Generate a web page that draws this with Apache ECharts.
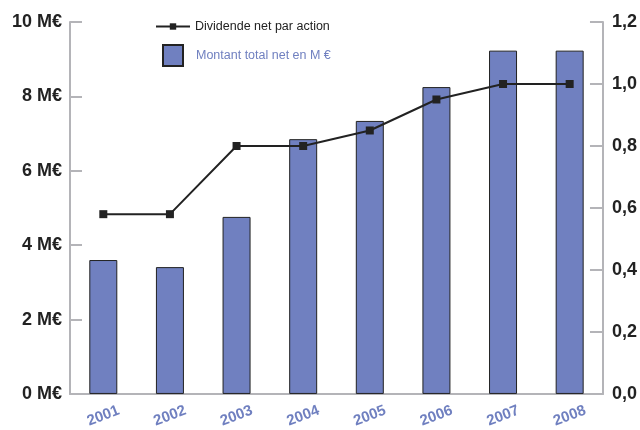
<!DOCTYPE html>
<html><head><meta charset="utf-8">
<script src="https://cdn.jsdelivr.net/npm/echarts@6/dist/echarts.min.js"></script>
<style>html,body{margin:0;padding:0;background:#fff}#c{width:640px;height:430px}</style>
</head><body><div id="c"></div>
<script>
const years = ['2001','2002','2003','2004','2005','2006','2007','2008'];
const totalNet = [3.6, 3.41, 4.76, 6.85, 7.34, 8.25, 9.23, 9.23];
const dividend = [0.58, 0.58, 0.80, 0.80, 0.85, 0.95, 1.0, 1.0];
const leftTicks = ['0 M€','2 M€','4 M€','6 M€','8 M€','10 M€'];
const rightTicks = ['0,0','0,2','0,4','0,6','0,8','1,0','1,2'];
const lineName = 'Dividende net par action';
const barName = 'Montant total net en M €';

const axisGray = '#b4b4b8';
const barColor = '#7080c0';
const narrow = '"Liberation Sans Narrow", "Liberation Sans", Arial, sans-serif';
const chart = echarts.init(document.getElementById('c'));
chart.setOption({
  animation: false,
  textStyle: {fontFamily: 'Liberation Sans, Arial, sans-serif'},
  grid: {left: 70, right: 37, top: 22, bottom: 36, containLabel: false},
  legend: [
    {data: [lineName], left: 150, top: 15, itemWidth: 34, itemHeight: 8,
     textStyle: {color: '#222', fontSize: 12.5, fontFamily: 'Liberation Sans, Arial'}},
    {data: [{name: barName, icon: 'rect'}], left: 157, top: 39, itemWidth: 20, itemHeight: 21,
     textStyle: {color: barColor, fontSize: 12.5, fontFamily: 'Liberation Sans, Arial', padding: [0, 0, 0, 8]}}
  ],
  xAxis: {
    type: 'category', data: years,
    axisLine: {lineStyle: {color: axisGray, width: 2}},
    axisTick: {inside: true, length: 10, lineStyle: {color: axisGray, width: 2}},
    axisLabel: {rotate: 21, align: 'center', margin: 22, color: barColor, fontWeight: 'bold', fontSize: 15, fontFamily: narrow}
  },
  yAxis: [
    {type: 'value', min: 0, max: 10, interval: 2, position: 'left',
     axisLine: {show: true, lineStyle: {color: axisGray, width: 2}},
     axisTick: {show: true, inside: true, length: 12, lineStyle: {color: axisGray, width: 2}},
     splitLine: {show: false},
     axisLabel: {margin: 8, color: '#222', fontWeight: 'bold', fontSize: 18, fontFamily: narrow,
       formatter: v => leftTicks[Math.round(v / 2)]}},
    {type: 'value', min: 0, max: 1.2, interval: 0.2, position: 'right',
     axisLine: {show: true, lineStyle: {color: axisGray, width: 2}},
     axisTick: {show: true, inside: true, length: 13, lineStyle: {color: axisGray, width: 2}},
     splitLine: {show: false},
     axisLabel: {margin: 9, color: '#222', fontWeight: 'bold', fontSize: 18, fontFamily: narrow,
       formatter: v => rightTicks[Math.round(v / 0.2)]}}
  ],
  series: [
    {name: barName, type: 'bar', yAxisIndex: 0, data: totalNet, barWidth: 28,
     itemStyle: {color: barColor, borderColor: '#222', borderWidth: 1}},
    {name: lineName, type: 'line', yAxisIndex: 1, data: dividend,
     symbol: 'rect', symbolSize: 8, lineStyle: {color: '#222', width: 2},
     itemStyle: {color: '#222'}}
  ]
});
</script></body></html>
